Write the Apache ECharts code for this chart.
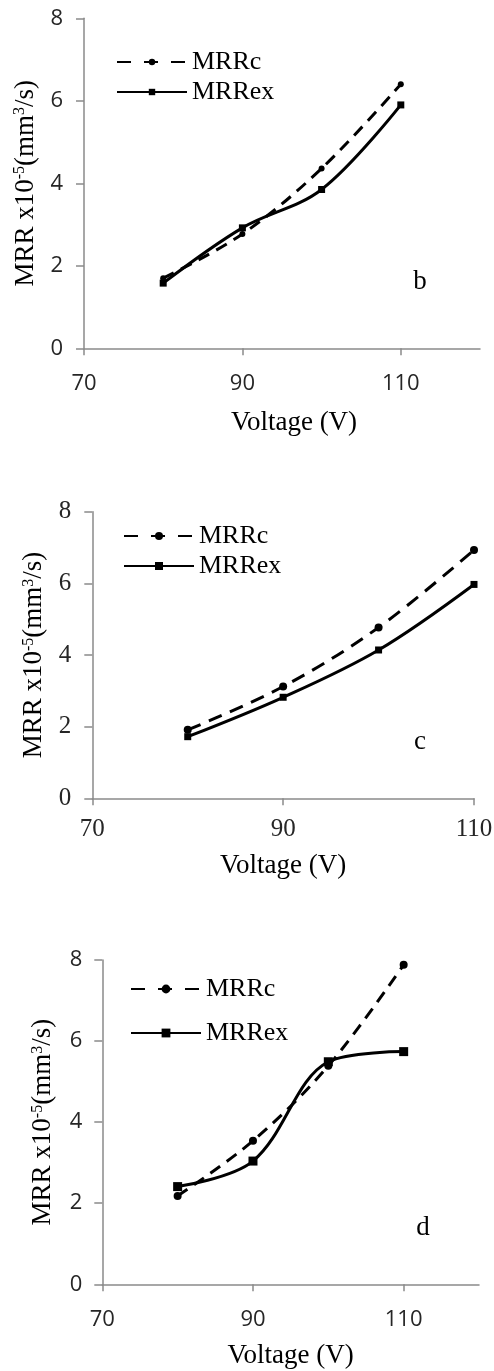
<!DOCTYPE html>
<html>
<head>
<meta charset="utf-8">
<title>MRR vs Voltage</title>
<script src="https://cdn.jsdelivr.net/npm/echarts@6.0.0/dist/echarts.min.js"></script>
<style>
  html, body { margin: 0; padding: 0; background: #ffffff; }
  #wrap { position: relative; width: 494px; height: 1371px; overflow: hidden; }
  .panel { position: absolute; left: 0; width: 494px; }
</style>
</head>
<body>
<div id="wrap">
  <div id="pb" class="panel" style="top:0px;height:460px;"></div>
  <div id="pc" class="panel" style="top:460px;height:460px;"></div>
  <div id="pd" class="panel" style="top:920px;height:451px;"></div>
</div>
<script>
// ---- data ----
const voltage = [80, 90, 100, 110];
const seriesNames = ['MRRc', 'MRRex'];
const panelLetters = ['b', 'c', 'd'];
const mrrcB  = [1.70, 2.77, 4.36, 6.40];
const mrrexB = [1.58, 2.92, 3.85, 5.90];
const mrrcC  = [1.91, 3.12, 4.77, 6.93];
const mrrexC = [1.72, 2.82, 4.14, 5.97];
const mrrcD  = [2.18, 3.54, 5.39, 7.88];
const mrrexD = [2.41, 3.04, 5.49, 5.74];
const xTickLabels = [70, 90, 110];
const yTickLabels = [0, 2, 4, 6, 8];
const xAxisTitle = 'Voltage (V)';
const yAxisTitle = 'MRR x10{sup|-5}(mm{sup|3}/s)';

// ---- styling ----
const SERIF = '"Liberation Serif", "Times New Roman", serif';
const SANS = '"Open Sans", "Noto Sans", sans-serif';
const AXIS_COLOR = '#8a8a8a';
const TICK_COLOR = '#262626';

function pairs(xs, ys) { return xs.map((x, i) => [x, ys[i]]); }

function makeOption(p) {
  return {
    animation: false,
    backgroundColor: '#ffffff',
    grid: {
      left: p.grid[0], top: p.grid[1], width: p.grid[2], height: p.grid[3],
      containLabel: false, outerBoundsMode: 'none'
    },
    legend: {
      orient: 'vertical',
      left: p.legend.left, top: p.legend.top,
      padding: 0,
      itemGap: p.legend.gap,
      itemWidth: p.legend.w,
      itemHeight: p.legend.h,
      textStyle: { fontFamily: SERIF, fontSize: 26, color: '#000' },
      data: [
        { name: seriesNames[0], lineStyle: { type: [14, 13] } },
        { name: seriesNames[1] }
      ],
      selectedMode: false
    },
    xAxis: {
      type: 'value',
      min: 70, max: p.xMax, interval: 20,
      name: xAxisTitle,
      nameLocation: 'middle',
      nameGap: p.xNameGap,
      nameTextStyle: { fontFamily: SERIF, fontSize: 27, color: '#000', padding: p.xNamePad },
      axisLine: { show: true, onZero: false, lineStyle: { color: AXIS_COLOR, width: 1.5 } },
      axisTick: { show: true, length: 7, inside: false, lineStyle: { color: AXIS_COLOR, width: 1.5 }, customValues: xTickLabels },
      axisLabel: { margin: p.xLabelMargin, fontFamily: p.tickFont, fontSize: p.tickSize, color: TICK_COLOR,
                   customValues: xTickLabels },
      splitLine: { show: false }
    },
    yAxis: {
      type: 'value',
      min: 0, max: 8, interval: 2,
      name: yAxisTitle,
      nameLocation: 'middle',
      nameGap: p.yNameGap,
      nameTextStyle: {
        fontFamily: SERIF, fontSize: 27, color: '#000',
        rich: { sup: { fontFamily: SERIF, fontSize: 16, color: '#000', verticalAlign: 'top' } }
      },
      axisLine: { show: true, lineStyle: { color: AXIS_COLOR, width: 1.5 } },
      axisTick: { show: true, length: 8, inside: false, lineStyle: { color: AXIS_COLOR, width: 1.5 } },
      axisLabel: { margin: p.yLabelMargin, fontFamily: p.tickFont, fontSize: p.tickSize, color: TICK_COLOR,
                   customValues: yTickLabels },
      splitLine: { show: false }
    },
    series: [
      {
        name: seriesNames[0], type: 'line',
        data: pairs(voltage, p.c),
        smooth: 0.35, clip: false,
        symbol: 'circle', symbolSize: p.cSym,
        itemStyle: { color: '#000' },
        lineStyle: { color: '#000', width: 3, type: p.dash }
      },
      {
        name: seriesNames[1], type: 'line',
        data: pairs(voltage, p.ex),
        smooth: 0.35, clip: false,
        symbol: 'rect', symbolSize: p.exSym,
        itemStyle: { color: '#000' },
        lineStyle: { color: '#000', width: 3, type: 'solid' }
      }
    ],
    graphic: [{
      type: 'text', x: p.letter[0], y: p.letter[1],
      style: { text: p.letterText, font: '27px ' + SERIF, fill: '#000', align: 'center', verticalAlign: 'middle' }
    }]
  };
}

const panels = [
  { id: 'pb', grid: [84, 18.3, 396, 330], xMax: 120, c: mrrcB, ex: mrrexB,
    legend: { left: 116, top: 49, gap: 4, w: 70, h: 8 },
    xNameGap: 61, xNamePad: [0, 0, 0, 24], yNameGap: 45,
    xLabelMargin: 24, yLabelMargin: 21, tickFont: SANS, tickSize: 22,
    cSym: 6, exSym: 7, dash: [12, 8], letter: [420, 282], letterText: panelLetters[0] },
  { id: 'pc', grid: [92.3, 51.7, 381.7, 286.6], xMax: 110, c: mrrcC, ex: mrrexC,
    legend: { left: 123, top: 63, gap: 4, w: 70, h: 10 },
    xNameGap: 54, xNamePad: 0, yNameGap: 45,
    xLabelMargin: 19, yLabelMargin: 21, tickFont: SERIF, tickSize: 25,
    cSym: 8, exSym: 7, dash: [14, 9], letter: [420, 282], letterText: panelLetters[1] },
  { id: 'pd', grid: [102.3, 40, 376.7, 324.3], xMax: 120, c: mrrcD, ex: mrrexD,
    legend: { left: 130, top: 56, gap: 18, w: 70, h: 11 },
    xNameGap: 58, xNamePad: 0, yNameGap: 46,
    xLabelMargin: 24, yLabelMargin: 20, tickFont: SANS, tickSize: 22,
    cSym: 8, exSym: 9, dash: [12, 8], letter: [423, 308], letterText: panelLetters[2] }
];

panels.forEach(p => {
  const chart = echarts.init(document.getElementById(p.id), null, { renderer: 'canvas' });
  chart.setOption(makeOption(p));
});
</script>
</body>
</html>
